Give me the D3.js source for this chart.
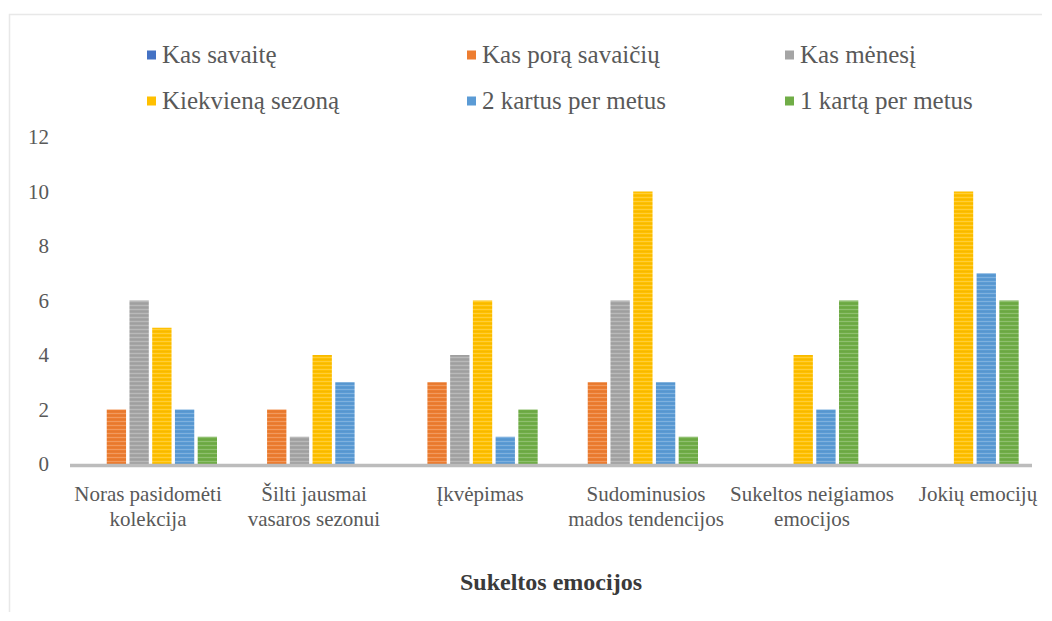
<!DOCTYPE html>
<html>
<head>
<meta charset="utf-8">
<script src="https://cdn.jsdelivr.net/npm/d3@7"></script>
<style>
  html, body { margin: 0; padding: 0; background: #fff; }
  svg { display: block; }
</style>
</head>
<body>
<svg id="chart" width="1052" height="621"></svg>
<script>
// Emotions evoked by the collection, grouped by how often respondents shop
const categories = [
  ["Noras pasidomėti", "kolekcija"],
  ["Šilti jausmai", "vasaros sezonui"],
  ["Įkvėpimas"],
  ["Sudominusios", "mados tendencijos"],
  ["Sukeltos neigiamos", "emocijos"],
  ["Jokių emocijų"]
];
const seriesNames = ["Kas savaitę", "Kas porą savaičių", "Kas mėnesį", "Kiekvieną sezoną", "2 kartus per metus", "1 kartą per metus"];
const seriesColors = ["#4472C4", "#ED7D31", "#A5A5A5", "#FFC000", "#5B9BD5", "#70AD47"];

const kasSavaite      = [0, 0, 0, 0, 0, 0];
const kasPoraSavaiciu = [2, 2, 3, 3, 0, 0];
const kasMenesi       = [6, 1, 4, 6, 0, 0];
const kiekvienaSezona = [5, 4, 6, 10, 4, 10];
const duKartusPerMetus = [2, 3, 1, 3, 2, 7];
const vienaKartaPerMetus = [1, 0, 2, 1, 6, 6];
const seriesValues = [kasSavaite, kasPoraSavaiciu, kasMenesi, kiekvienaSezona, duKartusPerMetus, vienaKartaPerMetus];

const yTicks = [0, 2, 4, 6, 8, 10, 12];
const axisTitle = "Sukeltos emocijos";

const FONT = "Liberation Serif";
const svg = d3.select("#chart");

// soft frame along the top and left edges
svg.append("path")
  .attr("d", "M9.5,612 V14.5 H1042")
  .attr("fill", "none")
  .attr("stroke", "#e8e8e8")
  .attr("stroke-width", 1.5);

const x = d3.scaleBand().domain(d3.range(categories.length)).range([70, 1032]);
const xs = d3.scaleBand().domain(d3.range(seriesNames.length)).range([14, 147]).paddingInner(0.15);
const y = d3.scaleLinear().domain([0, 12]).range([464, 137]);
// category text is spread a little wider than the bar groups
const xLabel = d3.scalePoint().domain(d3.range(categories.length)).range([148, 978]);

// striped fills for the bars
const defs = svg.append("defs");
seriesColors.forEach((c, i) => {
  const p = defs.append("pattern")
    .attr("id", "fill" + i)
    .attr("patternUnits", "userSpaceOnUse")
    .attr("width", 8).attr("height", 4);
  p.append("rect").attr("width", 8).attr("height", 4).attr("fill", c);
  p.append("rect").attr("y", 1).attr("width", 8).attr("height", 1)
    .attr("fill", "#fff").attr("opacity", 0.22);
  p.append("rect").attr("y", 3).attr("width", 8).attr("height", 0.6)
    .attr("fill", "#000").attr("opacity", 0.06);
});

// y axis labels only (no line, no grid)
const yAxis = d3.axisLeft(y).tickValues(yTicks).tickSize(0).tickPadding(0);
svg.append("g")
  .attr("transform", "translate(49,0)")
  .call(yAxis)
  .attr("font-family", FONT)
  .attr("font-size", 21)
  .call(g => g.select(".domain").remove())
  .selectAll("text")
  .attr("fill", "#595959");

// bars
const groups = svg.append("g").selectAll("g")
  .data(categories.map((c, i) => i))
  .join("g")
  .attr("transform", i => `translate(${x(i)},0)`);

groups.selectAll("rect")
  .data(ci => seriesValues.map((vals, si) => ({ si, v: vals[ci] })).filter(d => d.v > 0))
  .join("rect")
  .attr("x", d => xs(d.si))
  .attr("width", xs.bandwidth())
  .attr("y", d => y(d.v))
  .attr("height", d => y(0) - y(d.v))
  .attr("fill", d => `url(#fill${d.si})`);

// category axis baseline
svg.append("line")
  .attr("x1", x.range()[0]).attr("x2", x.range()[1])
  .attr("y1", y(0) + 1.5).attr("y2", y(0) + 1.5)
  .attr("stroke", "#bcbcbc")
  .attr("stroke-width", 3.5);

// category labels
const catLabels = svg.append("g").selectAll("text")
  .data(categories)
  .join("text")
  .attr("x", (d, i) => xLabel(i))
  .attr("y", 501)
  .attr("text-anchor", "middle")
  .attr("font-family", FONT)
  .attr("font-size", 21)
  .attr("fill", "#595959");
catLabels.selectAll("tspan")
  .data(d => d)
  .join("tspan")
  .attr("x", function () { return d3.select(this.parentNode).attr("x"); })
  .attr("dy", (d, i) => i === 0 ? 0 : 25)
  .text(d => d);

// axis title
svg.append("text")
  .attr("x", (x.range()[0] + x.range()[1]) / 2)
  .attr("y", 590)
  .attr("text-anchor", "middle")
  .attr("font-family", FONT)
  .attr("font-size", 24)
  .attr("font-weight", "bold")
  .attr("fill", "#3a3a3a")
  .text(axisTitle);

// legend: two rows of three
const legendCols = [147, 467, 785];
const legendRows = [55, 101];
const legend = svg.append("g").selectAll("g")
  .data(seriesNames)
  .join("g")
  .attr("transform", (d, i) => `translate(${legendCols[i % 3]},${legendRows[Math.floor(i / 3)]})`);
legend.append("rect")
  .attr("x", 0).attr("y", -4.5)
  .attr("width", 9).attr("height", 9)
  .attr("fill", (d, i) => seriesColors[i]);
legend.append("text")
  .attr("x", 15)
  .attr("y", 8)
  .attr("font-family", FONT)
  .attr("font-size", 25)
  .attr("fill", "#595959")
  .text(d => d);
</script>
</body>
</html>
